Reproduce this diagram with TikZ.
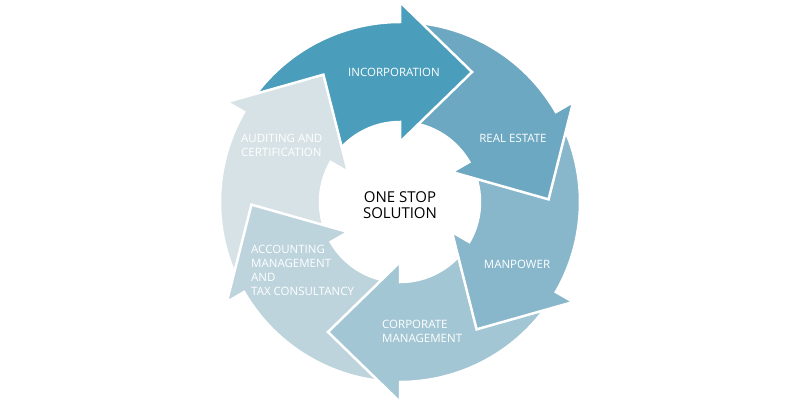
\documentclass[tikz,border=0pt]{standalone}
\usepackage{fontspec}
\setmainfont{Open Sans}
\usetikzlibrary{calc}
\definecolor{seg_inc}{HTML}{4A9DBB}
\definecolor{seg_estate}{HTML}{6CA8C1}
\definecolor{seg_manpower}{HTML}{88B7CC}
\definecolor{seg_corporate}{HTML}{A3C6D4}
\definecolor{seg_accounting}{HTML}{BDD4DD}
\definecolor{seg_auditing}{HTML}{D7E2E6}

% one arrow of the cycle, head base at angle #1, tail 60 degrees before it
\newcommand{\segpath}[1]{%
  (#1+60:180) arc[start angle=#1+60, end angle=#1, radius=180]
  -- (#1:200) -- ($(#1:130)+(#1-90:72)$) -- (#1:60) -- (#1:80)
  arc[start angle=#1, end angle=#1+60, radius=80] -- cycle}

\begin{document}
\begin{tikzpicture}[
    x=1pt, y=1pt,
    segment/.style={draw=white, line width=2.5pt, line join=miter},
    seglabel/.style={text=white, align=left, inner sep=0pt,
        font=\fontsize{11.5}{13.8}\selectfont},
]
\useasboundingbox (-400,-198) rectangle (400,202);

% ── Arrow segments (each head lies over the next tail) ──────────────────────
\foreach \h/\col in {-210/seg_auditing, -150/seg_accounting,
    -90/seg_corporate, -30/seg_manpower, 30/seg_estate, 90/seg_inc} {
    \fill[segment, fill=\col] \segpath{\h};
}

% ── Auditing head once more, over the tail of Incorporation ─────────────────
\begin{scope}
    \clip (0,0) -- (110:230) arc[start angle=110, end angle=170, radius=230] -- cycle;
    \fill[segment, fill=seg_auditing] \segpath{150};
\end{scope}

% ── Labels ──────────────────────────────────────────────────────────────────
\node[seglabel] (inc) at (-6,130) {INCORPORATION};
\node[seglabel] (estate) at (113,64) {REAL ESTATE};
\node[seglabel] (manpower) at (117,-62) {MANPOWER};
\node[seglabel, anchor=west] (corporate) at (-18,-129)
    {CORPORATE\\MANAGEMENT};
\node[seglabel, anchor=west] (accounting) at (-149,-68.5)
    {ACCOUNTING\\MANAGEMENT\\AND\\TAX CONSULTANCY};
\node[seglabel, anchor=west] (auditing) at (-159,57)
    {AUDITING AND\\CERTIFICATION};

\node[align=center, inner sep=0pt, font=\fontsize{15}{15.5}\selectfont]
    (solution) at (0,-3) {ONE STOP\\SOLUTION};

\end{tikzpicture}
\end{document}
